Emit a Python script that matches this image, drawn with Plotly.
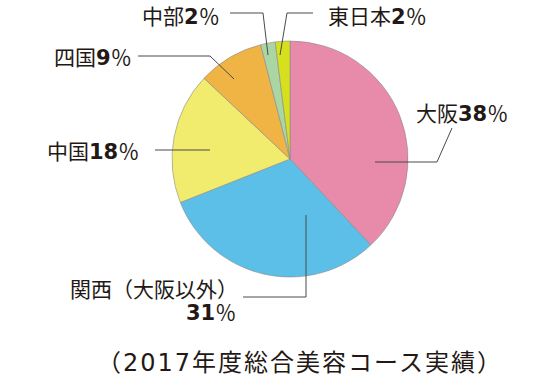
import plotly.graph_objects as go

# ---- data ----
regions = ["大阪", "関西（大阪以外）", "中国", "四国", "中部", "東日本"]
shares = [38, 31, 18, 9, 2, 2]
slice_colors = ["#E88BAA", "#5CBFE8", "#F2EC6E", "#F0B445", "#A9D6A3", "#D6E01E"]
caption_parts = ["（", "2017", "年度総合美容コース実績）"]

W, H = 558, 377
CX, CY, R = 290, 159, 118


def px(x):
    return x / W


def py(y):
    return 1 - y / H


fig = go.Figure(go.Pie(
    labels=regions,
    values=shares,
    sort=False,
    direction="clockwise",
    rotation=0,
    textinfo="none",
    hoverinfo="label+percent",
    marker=dict(colors=slice_colors, line=dict(color="#8a8a8a", width=0.6)),
    domain=dict(x=[px(CX - R), px(CX + R)], y=[py(CY + R), py(CY - R)]),
    showlegend=False,
))

FONT = "Noto Sans CJK JP"
TXT = "#231815"
FS = 21
DIG = 'style="font-family:DejaVu Sans;font-weight:bold"'

# label placement (reference pixel positions) and leader lines (pixel polylines)
label_pos = {
    "大阪": dict(x=414, y=112, xanchor="left"),
    "関西（大阪以外）": dict(x=240, y=288, xanchor="right"),
    "中国": dict(x=141, y=150, xanchor="right"),
    "四国": dict(x=134, y=56, xanchor="right"),
    "中部": dict(x=222, y=15, xanchor="right"),
    "東日本": dict(x=326, y=15, xanchor="left"),
}
leaders = {
    "大阪": [(452, 128), (437, 162), (375, 162)],
    "関西（大阪以外）": [(243, 297), (306, 297), (306, 215)],
    "中国": [(155, 150), (210, 150)],
    "四国": [(138, 56), (210, 56), (234, 79)],
    "中部": [(230, 13), (263, 13), (268, 55)],
    "東日本": [(313, 13), (287, 13), (280, 55)],
}

annotations = []
shapes = []
for name, val in zip(regions, shares):
    p = label_pos[name]
    pct = f"<span {DIG}>{val}</span>％"
    if name == "関西（大阪以外）":
        annotations.append(dict(
            x=px(p["x"]), y=py(p["y"]), xref="paper", yref="paper",
            text=name, showarrow=False, xanchor="right", yanchor="middle",
            font=dict(family=FONT, size=FS, color=TXT),
        ))
        annotations.append(dict(
            x=px(p["x"] - 2), y=py(p["y"] + 23), xref="paper", yref="paper",
            text=pct, showarrow=False, xanchor="right", yanchor="middle",
            font=dict(family=FONT, size=FS, color=TXT),
        ))
    else:
        annotations.append(dict(
            x=px(p["x"]), y=py(p["y"]), xref="paper", yref="paper",
            text=name + pct, showarrow=False, xanchor=p["xanchor"], yanchor="middle",
            font=dict(family=FONT, size=FS, color=TXT),
        ))
    pts = leaders[name]
    path = "M " + " L ".join(f"{px(x)},{py(y)}" for x, y in pts)
    shapes.append(dict(type="path", path=path, xref="paper", yref="paper",
                       line=dict(color="#4a4a4a", width=1)))

caption = ('<span style="letter-spacing:2px">' + caption_parts[0]
           + f'<span style="font-family:DejaVu Sans">{caption_parts[1]}</span>'
           + caption_parts[2] + '</span>')
annotations.append(dict(
    x=px(300), y=py(360), xref="paper", yref="paper", text=caption,
    showarrow=False, xanchor="center", yanchor="middle",
    font=dict(family=FONT, size=24, color=TXT),
))

fig.update_layout(
    width=W, height=H,
    margin=dict(l=0, r=0, t=0, b=0),
    paper_bgcolor="white",
    plot_bgcolor="white",
    annotations=annotations,
    shapes=shapes,
)

fig.write_html("out.html",
               config={"displayModeBar": False},
               post_script="document.body.style.margin='0';document.body.style.overflow='hidden';")
